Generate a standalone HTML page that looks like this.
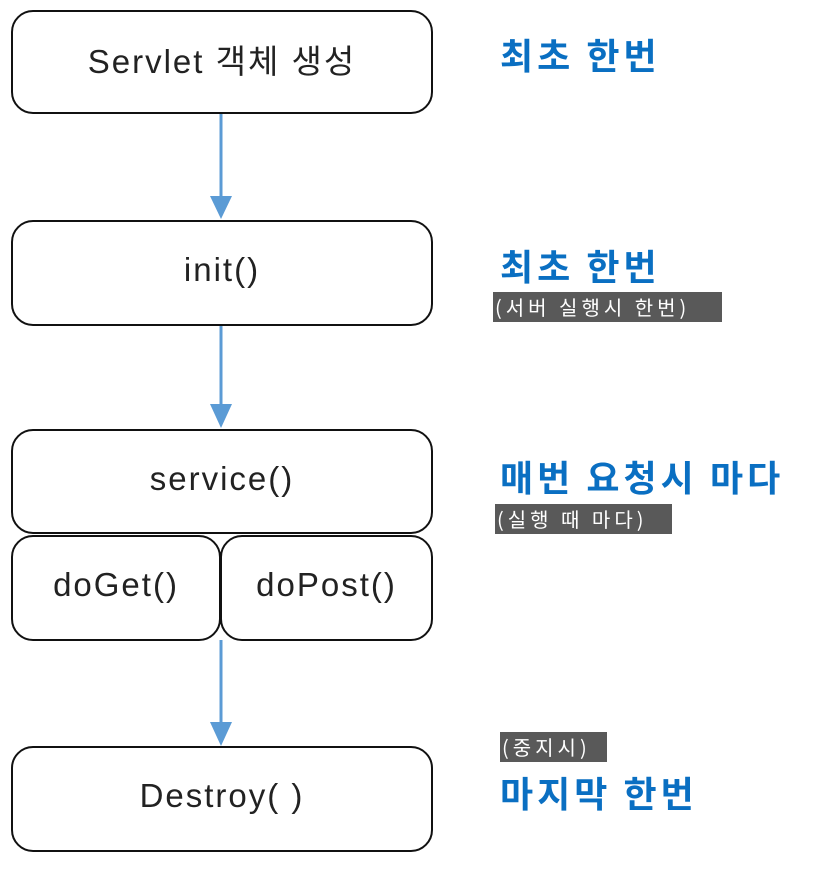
<!DOCTYPE html>
<html><head><meta charset="utf-8"><style>
html,body{margin:0;padding:0;background:#fff;}
body{width:827px;height:877px;position:relative;overflow:hidden;font-family:"Liberation Sans","Noto Sans CJK KR",sans-serif;}
.b{position:absolute;box-sizing:border-box;border:2px solid #111;border-radius:22px;display:flex;align-items:center;justify-content:center;font-size:33px;letter-spacing:2px;color:#222;background:#fff;padding-bottom:6px;}
.t{position:absolute;color:#0a6fc2;font-weight:bold;font-size:36px;letter-spacing:4px;font-family:"Noto Sans CJK KR",sans-serif;line-height:1;white-space:nowrap;}
.g{position:absolute;background:#595959;color:#fff;font-size:20px;letter-spacing:4px;font-family:"Noto Sans CJK KR",sans-serif;line-height:30px;padding:0 2px;white-space:nowrap;overflow:hidden;}
</style></head><body>
<svg width="827" height="877" style="position:absolute;left:0;top:0">
<g stroke="#5b9bd5" stroke-width="3"><line x1="221" y1="113" x2="221" y2="200"/><line x1="221" y1="325" x2="221" y2="408"/><line x1="221" y1="640" x2="221" y2="725"/></g>
<g fill="#5b9bd5"><polygon points="210,196 232,196 221,219"/><polygon points="210,404 232,404 221,428"/><polygon points="210,722 232,722 221,746"/></g>
</svg>
<div class="b" style="left:11px;top:10px;width:422px;height:104px">Servlet 객체 생성</div>
<div class="b" style="left:11px;top:220px;width:422px;height:106px">init()</div>
<div class="b" style="left:11px;top:429px;width:422px;height:105px">service()</div>
<div class="b" style="left:11px;top:535px;width:210px;height:106px">doGet()</div>
<div class="b" style="left:220px;top:535px;width:213px;height:106px">doPost()</div>
<div class="b" style="left:11px;top:746px;width:422px;height:106px">Destroy( )</div>
<div class="t" style="left:500px;top:36px">최초 한번</div>
<div class="t" style="left:500px;top:247px">최초 한번</div>
<div class="g" style="left:493px;top:292px;width:225px">(서버 실행시 한번)</div>
<div class="t" style="left:500px;top:458px">매번 요청시 마다</div>
<div class="g" style="left:495px;top:504px;width:173px">(실행 때 마다)</div>
<div class="g" style="left:500px;top:732px;width:103px">(중지시)</div>
<div class="t" style="left:500px;top:774px">마지막 한번</div>
</body></html>
